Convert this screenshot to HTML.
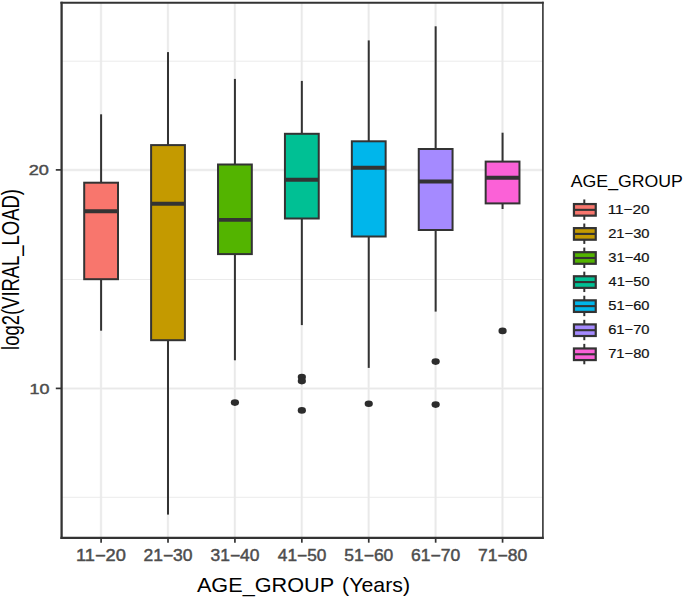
<!DOCTYPE html>
<html><head><meta charset="utf-8"><title>Boxplot</title>
<style>html,body{margin:0;padding:0;background:#fff}svg{display:block}</style></head>
<body>
<svg width="685" height="598" viewBox="0 0 685 598" font-family='"Liberation Sans", sans-serif'>
<rect width="685" height="598" fill="#fff"/>
<line x1="61.6" x2="542.9" y1="388.50" y2="388.50" stroke="#f8f8f8" stroke-width="2.8"/>
<line x1="61.6" x2="542.9" y1="170.00" y2="170.00" stroke="#f8f8f8" stroke-width="2.8"/>
<line x1="101.00" x2="101.00" y1="2.8" y2="537.8" stroke="#f8f8f8" stroke-width="2.8"/>
<line x1="167.91" x2="167.91" y1="2.8" y2="537.8" stroke="#f8f8f8" stroke-width="2.8"/>
<line x1="234.82" x2="234.82" y1="2.8" y2="537.8" stroke="#f8f8f8" stroke-width="2.8"/>
<line x1="301.74" x2="301.74" y1="2.8" y2="537.8" stroke="#f8f8f8" stroke-width="2.8"/>
<line x1="368.65" x2="368.65" y1="2.8" y2="537.8" stroke="#f8f8f8" stroke-width="2.8"/>
<line x1="435.56" x2="435.56" y1="2.8" y2="537.8" stroke="#f8f8f8" stroke-width="2.8"/>
<line x1="502.47" x2="502.47" y1="2.8" y2="537.8" stroke="#f8f8f8" stroke-width="2.8"/>
<line x1="61.6" x2="542.9" y1="61.2" y2="61.2" stroke="#e9e9e9" stroke-width="0.9"/>
<line x1="61.6" x2="542.9" y1="279.5" y2="279.5" stroke="#e9e9e9" stroke-width="0.9"/>
<line x1="61.6" x2="542.9" y1="497.3" y2="497.3" stroke="#e9e9e9" stroke-width="0.9"/>
<line x1="61.6" x2="542.9" y1="388.50" y2="388.50" stroke="#e9e9e9" stroke-width="1.6"/>
<line x1="61.6" x2="542.9" y1="170.00" y2="170.00" stroke="#e9e9e9" stroke-width="1.6"/>
<line x1="101.00" x2="101.00" y1="2.8" y2="537.8" stroke="#e9e9e9" stroke-width="1.6"/>
<line x1="167.91" x2="167.91" y1="2.8" y2="537.8" stroke="#e9e9e9" stroke-width="1.6"/>
<line x1="234.82" x2="234.82" y1="2.8" y2="537.8" stroke="#e9e9e9" stroke-width="1.6"/>
<line x1="301.74" x2="301.74" y1="2.8" y2="537.8" stroke="#e9e9e9" stroke-width="1.6"/>
<line x1="368.65" x2="368.65" y1="2.8" y2="537.8" stroke="#e9e9e9" stroke-width="1.6"/>
<line x1="435.56" x2="435.56" y1="2.8" y2="537.8" stroke="#e9e9e9" stroke-width="1.6"/>
<line x1="502.47" x2="502.47" y1="2.8" y2="537.8" stroke="#e9e9e9" stroke-width="1.6"/>
<line x1="101.10" x2="101.10" y1="114.3" y2="182.7" stroke="#333333" stroke-width="2.0"/>
<line x1="101.10" x2="101.10" y1="279.2" y2="330.7" stroke="#333333" stroke-width="2.0"/>
<rect x="84.20" y="182.7" width="33.80" height="96.50" fill="#F8766D" stroke="#333333" stroke-width="2"/>
<line x1="84.20" x2="118.00" y1="211.2" y2="211.2" stroke="#333333" stroke-width="3.9"/>
<line x1="168.01" x2="168.01" y1="52.1" y2="145.1" stroke="#333333" stroke-width="2.0"/>
<line x1="168.01" x2="168.01" y1="340.2" y2="514.6" stroke="#333333" stroke-width="2.0"/>
<rect x="151.11" y="145.1" width="33.80" height="195.10" fill="#C49A00" stroke="#333333" stroke-width="2"/>
<line x1="151.11" x2="184.91" y1="203.7" y2="203.7" stroke="#333333" stroke-width="3.9"/>
<ellipse cx="234.92" cy="402.6" rx="4.1" ry="3.3" fill="#2c2c2c"/>
<line x1="234.92" x2="234.92" y1="78.9" y2="164.5" stroke="#333333" stroke-width="2.0"/>
<line x1="234.92" x2="234.92" y1="254.1" y2="360.3" stroke="#333333" stroke-width="2.0"/>
<rect x="218.02" y="164.5" width="33.80" height="89.60" fill="#53B400" stroke="#333333" stroke-width="2"/>
<line x1="218.02" x2="251.82" y1="219.9" y2="219.9" stroke="#333333" stroke-width="3.9"/>
<ellipse cx="301.84" cy="377.1" rx="4.1" ry="3.3" fill="#2c2c2c"/>
<ellipse cx="301.84" cy="381.1" rx="4.1" ry="3.3" fill="#2c2c2c"/>
<ellipse cx="301.84" cy="410.4" rx="4.1" ry="3.3" fill="#2c2c2c"/>
<line x1="301.84" x2="301.84" y1="80.9" y2="133.8" stroke="#333333" stroke-width="2.0"/>
<line x1="301.84" x2="301.84" y1="218.5" y2="325.1" stroke="#333333" stroke-width="2.0"/>
<rect x="284.94" y="133.8" width="33.80" height="84.70" fill="#00C094" stroke="#333333" stroke-width="2"/>
<line x1="284.94" x2="318.74" y1="179.8" y2="179.8" stroke="#333333" stroke-width="3.9"/>
<ellipse cx="368.75" cy="403.8" rx="4.1" ry="3.3" fill="#2c2c2c"/>
<line x1="368.75" x2="368.75" y1="40.4" y2="141.3" stroke="#333333" stroke-width="2.0"/>
<line x1="368.75" x2="368.75" y1="236.5" y2="367.9" stroke="#333333" stroke-width="2.0"/>
<rect x="351.85" y="141.3" width="33.80" height="95.20" fill="#00B6EB" stroke="#333333" stroke-width="2"/>
<line x1="351.85" x2="385.65" y1="167.7" y2="167.7" stroke="#333333" stroke-width="3.9"/>
<ellipse cx="435.66" cy="361.6" rx="4.1" ry="3.3" fill="#2c2c2c"/>
<ellipse cx="435.66" cy="404.6" rx="4.1" ry="3.3" fill="#2c2c2c"/>
<line x1="435.66" x2="435.66" y1="26.3" y2="149.0" stroke="#333333" stroke-width="2.0"/>
<line x1="435.66" x2="435.66" y1="230.0" y2="311.6" stroke="#333333" stroke-width="2.0"/>
<rect x="418.76" y="149.0" width="33.80" height="81.00" fill="#A58AFF" stroke="#333333" stroke-width="2"/>
<line x1="418.76" x2="452.56" y1="181.5" y2="181.5" stroke="#333333" stroke-width="3.9"/>
<ellipse cx="502.57" cy="330.9" rx="4.1" ry="3.3" fill="#2c2c2c"/>
<line x1="502.57" x2="502.57" y1="132.7" y2="161.6" stroke="#333333" stroke-width="2.0"/>
<line x1="502.57" x2="502.57" y1="203.4" y2="209.0" stroke="#333333" stroke-width="2.0"/>
<rect x="485.67" y="161.6" width="33.80" height="41.80" fill="#FB61D7" stroke="#333333" stroke-width="2"/>
<line x1="485.67" x2="519.47" y1="177.8" y2="177.8" stroke="#333333" stroke-width="3.9"/>
<path d="M61.6 1.7499999999999998V538.9" stroke="#333333" stroke-width="2.3" fill="none"/>
<path d="M542.9 1.7499999999999998V538.9" stroke="#333333" stroke-width="1.6" fill="none"/>
<path d="M60.45 2.8H543.6999999999999" stroke="#333333" stroke-width="2.1" fill="none"/>
<path d="M60.45 537.8H543.6999999999999" stroke="#333333" stroke-width="2.2" fill="none"/>
<line x1="101.10" x2="101.10" y1="537.8" y2="542.7" stroke="#333333" stroke-width="1.7"/>
<line x1="168.01" x2="168.01" y1="537.8" y2="542.7" stroke="#333333" stroke-width="1.7"/>
<line x1="234.92" x2="234.92" y1="537.8" y2="542.7" stroke="#333333" stroke-width="1.7"/>
<line x1="301.84" x2="301.84" y1="537.8" y2="542.7" stroke="#333333" stroke-width="1.7"/>
<line x1="368.75" x2="368.75" y1="537.8" y2="542.7" stroke="#333333" stroke-width="1.7"/>
<line x1="435.66" x2="435.66" y1="537.8" y2="542.7" stroke="#333333" stroke-width="1.7"/>
<line x1="502.57" x2="502.57" y1="537.8" y2="542.7" stroke="#333333" stroke-width="1.7"/>
<line x1="55.8" x2="61.6" y1="388.40" y2="388.40" stroke="#333333" stroke-width="1.7"/>
<line x1="55.8" x2="61.6" y1="169.90" y2="169.90" stroke="#333333" stroke-width="1.7"/>
<text transform="matrix(1.1260 0 0 1 75.94 560.94)" font-size="16.20" fill="#4d4d4d" stroke="#4d4d4d" stroke-width="0.45">11−20</text>
<text transform="matrix(1.0804 0 0 1 143.44 560.94)" font-size="16.20" fill="#4d4d4d" stroke="#4d4d4d" stroke-width="0.45">21−30</text>
<text transform="matrix(1.0765 0 0 1 210.53 560.94)" font-size="16.20" fill="#4d4d4d" stroke="#4d4d4d" stroke-width="0.45">31−40</text>
<text transform="matrix(1.0686 0 0 1 277.79 560.94)" font-size="16.20" fill="#4d4d4d" stroke="#4d4d4d" stroke-width="0.45">41−50</text>
<text transform="matrix(1.0765 0 0 1 344.35 560.94)" font-size="16.20" fill="#4d4d4d" stroke="#4d4d4d" stroke-width="0.45">51−60</text>
<text transform="matrix(1.0804 0 0 1 411.09 560.94)" font-size="16.20" fill="#4d4d4d" stroke="#4d4d4d" stroke-width="0.45">61−70</text>
<text transform="matrix(1.0804 0 0 1 478.00 560.94)" font-size="16.20" fill="#4d4d4d" stroke="#4d4d4d" stroke-width="0.45">71−80</text>
<text transform="matrix(1.1924 0 0 1 28.69 175.45)" font-size="15.21" fill="#4d4d4d" stroke="#4d4d4d" stroke-width="0.45">20</text>
<text transform="matrix(1.1605 0 0 1 29.46 393.75)" font-size="15.49" fill="#4d4d4d" stroke="#4d4d4d" stroke-width="0.45">10</text>
<text transform="matrix(1.0836 0 0 1 196.90 592.00)" font-size="20.00" fill="#000" >AGE_GROUP</text>
<text transform="matrix(1.0654 0 0 1 342.12 592.00)" font-size="20.00" fill="#000" >(Years)</text>
<text transform="matrix(0 -1 1.2575 0 18.90 349.89)" font-size="18.44" fill="#000" >log2(VIRAL_LOAD)</text>
<text transform="matrix(1.1007 0 0 1 570.80 186.90)" font-size="16.09" fill="#000" >AGE_GROUP</text>
<line x1="584.3" x2="584.3" y1="199.45" y2="219.85" stroke="#333333" stroke-width="2"/>
<rect x="573.95" y="204.05" width="21.8" height="11.6" fill="#F8766D" stroke="#333333" stroke-width="2.2"/>
<line x1="573.95" x2="595.75" y1="209.85" y2="209.85" stroke="#333333" stroke-width="2.1"/>
<text transform="matrix(1.1987 0 0 1 607.67 214.07)" font-size="12.82" fill="#111" stroke="#111" stroke-width="0.2">11−20</text>
<line x1="584.3" x2="584.3" y1="223.52" y2="243.92" stroke="#333333" stroke-width="2"/>
<rect x="573.95" y="228.12" width="21.8" height="11.6" fill="#C49A00" stroke="#333333" stroke-width="2.2"/>
<line x1="573.95" x2="595.75" y1="233.92" y2="233.92" stroke="#333333" stroke-width="2.1"/>
<text transform="matrix(1.1503 0 0 1 608.16 238.14)" font-size="12.82" fill="#111" stroke="#111" stroke-width="0.2">21−30</text>
<line x1="584.3" x2="584.3" y1="247.59" y2="267.99" stroke="#333333" stroke-width="2"/>
<rect x="573.95" y="252.19" width="21.8" height="11.6" fill="#53B400" stroke="#333333" stroke-width="2.2"/>
<line x1="573.95" x2="595.75" y1="257.99" y2="257.99" stroke="#333333" stroke-width="2.1"/>
<text transform="matrix(1.1460 0 0 1 608.31 262.21)" font-size="12.82" fill="#111" stroke="#111" stroke-width="0.2">31−40</text>
<line x1="584.3" x2="584.3" y1="271.66" y2="292.06" stroke="#333333" stroke-width="2"/>
<rect x="573.95" y="276.26" width="21.8" height="11.6" fill="#00C094" stroke="#333333" stroke-width="2.2"/>
<line x1="573.95" x2="595.75" y1="282.06" y2="282.06" stroke="#333333" stroke-width="2.1"/>
<text transform="matrix(1.1377 0 0 1 608.61 286.28)" font-size="12.82" fill="#111" stroke="#111" stroke-width="0.2">41−50</text>
<line x1="584.3" x2="584.3" y1="295.73" y2="316.13" stroke="#333333" stroke-width="2"/>
<rect x="573.95" y="300.33" width="21.8" height="11.6" fill="#00B6EB" stroke="#333333" stroke-width="2.2"/>
<line x1="573.95" x2="595.75" y1="306.13" y2="306.13" stroke="#333333" stroke-width="2.1"/>
<text transform="matrix(1.1460 0 0 1 608.31 310.35)" font-size="12.82" fill="#111" stroke="#111" stroke-width="0.2">51−60</text>
<line x1="584.3" x2="584.3" y1="319.80" y2="340.20" stroke="#333333" stroke-width="2"/>
<rect x="573.95" y="324.40" width="21.8" height="11.6" fill="#A58AFF" stroke="#333333" stroke-width="2.2"/>
<line x1="573.95" x2="595.75" y1="330.20" y2="330.20" stroke="#333333" stroke-width="2.1"/>
<text transform="matrix(1.1503 0 0 1 608.16 334.42)" font-size="12.82" fill="#111" stroke="#111" stroke-width="0.2">61−70</text>
<line x1="584.3" x2="584.3" y1="343.87" y2="364.27" stroke="#333333" stroke-width="2"/>
<rect x="573.95" y="348.47" width="21.8" height="11.6" fill="#FB61D7" stroke="#333333" stroke-width="2.2"/>
<line x1="573.95" x2="595.75" y1="354.27" y2="354.27" stroke="#333333" stroke-width="2.1"/>
<text transform="matrix(1.1503 0 0 1 608.16 358.49)" font-size="12.82" fill="#111" stroke="#111" stroke-width="0.2">71−80</text>
</svg>
</body></html>
